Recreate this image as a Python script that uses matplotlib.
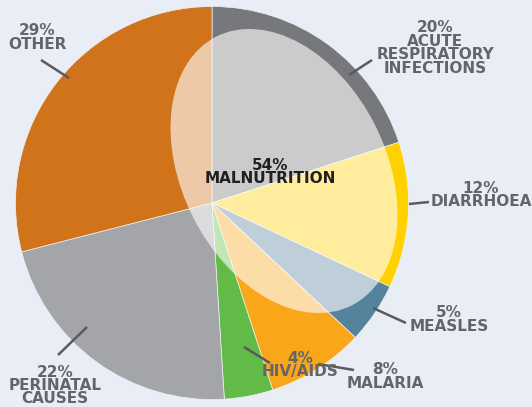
import matplotlib
matplotlib.use('Agg')
import matplotlib.pyplot as plt
from matplotlib.patches import Ellipse, Circle

# causes of child deaths, clockwise from 12 o'clock
causes = ['ACUTE\nRESPIRATORY\nINFECTIONS', 'DIARRHOEA', 'MEASLES', 'MALARIA',
          'HIV/AIDS', 'PERINATAL\nCAUSES', 'OTHER']
shares = [20, 12, 5, 8, 4, 22, 29]
colours = ['#77787b', '#ffd100', '#56839c', '#faa61a', '#62bb46', '#a4a5a8', '#d0731a']
malnutrition = 54

W, H = 532, 407
BG = '#e9eef6'
LABEL = '#646569'

fig = plt.figure(figsize=(W / 100, H / 100), dpi=100)
fig.patch.set_facecolor(BG)
ax = fig.add_axes([0, 0, 1, 1])
ax.set_aspect('equal')

cx, cy, r = 212, 203, 196.5

wedges, _ = ax.pie(shares, colors=colours, startangle=-90, counterclock=True,
                   center=(cx, cy), radius=r, frame=True,
                   wedgeprops=dict(edgecolor='#eef0f2', linewidth=0.5))
ax.set_xlim(0, W)
ax.set_ylim(H, 0)
ax.axis('off')

# malnutrition overlay (pale ellipse across the slices)
ell = Ellipse((cx + 72, cy - 32), 301, 204, angle=63.3,
              facecolor='white', alpha=0.62, edgecolor='none', zorder=3)
ax.add_patch(ell)
ell.set_clip_path(Circle((cx, cy), r, transform=ax.transData))

font = dict(family='DejaVu Sans', fontweight='bold', fontsize=11,
            ha='center', va='center', linespacing=0.87)

# label block centres and leader lines, in pixels
label_pos = [(435, 48), (481, 195), (449, 319.5), (385, 376.5),
             (300, 365), (55, 385.5), (37, 37.5)]
leaders = [((349, 75), (372, 60)), ((409, 204), (429, 202)),
           ((373, 308), (406, 323)), ((318, 364), (354, 370)),
           ((244, 347), (270, 363)), ((87, 327), (58, 355)),
           ((69, 78), (41, 60))]

for name, val, (tx, ty), (p0, p1) in zip(causes, shares, label_pos, leaders):
    ax.plot([p0[0], p1[0]], [p0[1], p1[1]], color='#5a5b5f', lw=1.8,
            solid_capstyle='butt', zorder=4)
    ax.text(tx, ty, '{}%\n{}'.format(val, name), color=LABEL, zorder=5, **font)

ax.text(270, 172, '{}%\nMALNUTRITION'.format(malnutrition), color='#231f20',
        zorder=5, **font)

fig.savefig('out.png', dpi=100, facecolor=BG)
